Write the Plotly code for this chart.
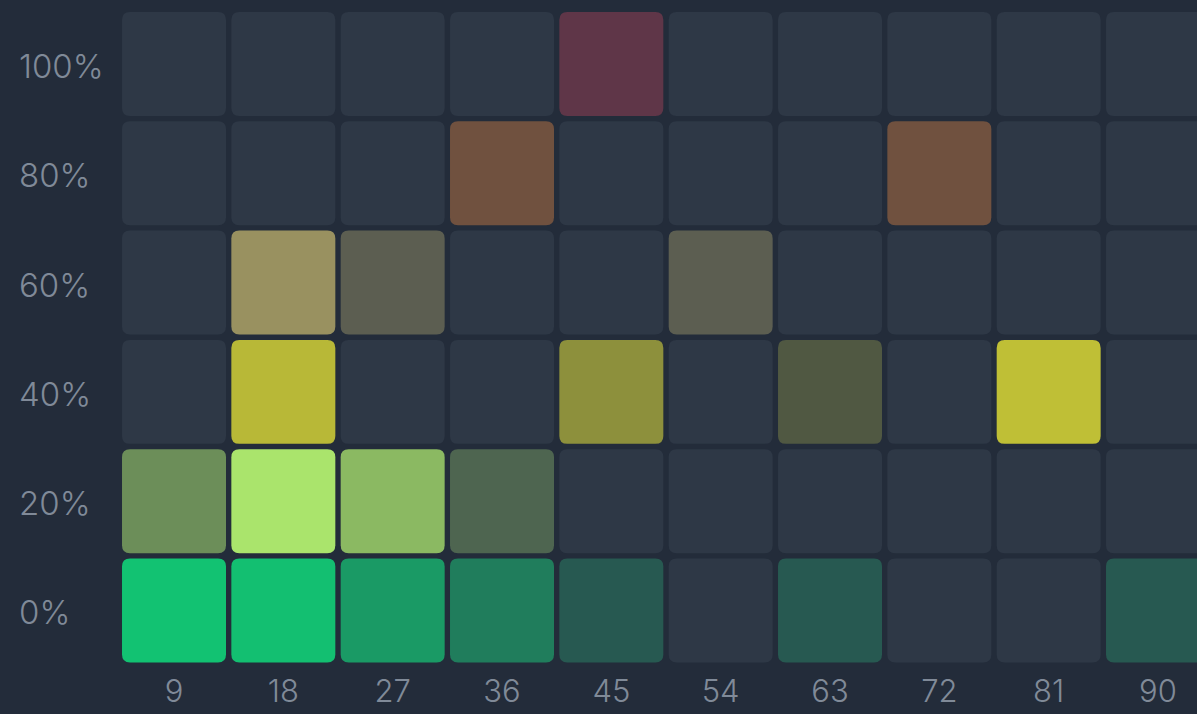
import plotly.graph_objects as go

# ---- data ----
x_values = [9, 18, 27, 36, 45, 54, 63, 72, 81, 90]
y_values = [0, 20, 40, 60, 80, 100]
y_labels = ["0%", "20%", "40%", "60%", "80%", "100%"]

# intensity (0..1) per row, one entry per x value
row_0 = [1.0, 0.98, 0.71, 0.5, 0.24, 0.0, 0.24, 0.0, 0.0, 0.24]
row_20 = [0.5, 1.0, 0.75, 0.26, 0.0, 0.0, 0.0, 0.0, 0.0, 0.0]
row_40 = [0.0, 0.93, 0.0, 0.0, 0.64, 0.0, 0.23, 0.0, 0.98, 0.0]
row_60 = [0.0, 0.82, 0.35, 0.0, 0.0, 0.35, 0.0, 0.0, 0.0, 0.0]
row_80 = [0.0, 0.0, 0.0, 0.45, 0.0, 0.0, 0.0, 0.45, 0.0, 0.0]
row_100 = [0.0, 0.0, 0.0, 0.0, 0.3, 0.0, 0.0, 0.0, 0.0, 0.0]
rows = [row_0, row_20, row_40, row_60, row_80, row_100]

row_colors = ["#12c272", "#aae46c", "#c2c236", "#b0a566", "#c07036", "#d0304c"]

# ---- style ----
BG = "#232c3a"
EMPTY = "#2e3846"
LABEL = "#808a98"
FONT = "Inter"


def hex_rgb(h):
    h = h.lstrip("#")
    return [int(h[i:i + 2], 16) for i in (0, 2, 4)]


def blend(base, a):
    b = hex_rgb(base)
    e = hex_rgb(EMPTY)
    c = [round(e[i] + a * (b[i] - e[i])) for i in range(3)]
    return "rgb(%d,%d,%d)" % tuple(c)


# geometry (data units)
HW = 4.28   # half width of a cell
HH = 9.51   # half height of a cell
RX = 0.66   # corner radius in x units
RY = 1.46   # corner radius in y units


def rrect(xc, yc):
    x0, x1 = xc - HW, xc + HW
    y0, y1 = yc - HH, yc + HH
    return (f"M {x0+RX},{y0} L {x1-RX},{y0} Q {x1},{y0} {x1},{y0+RY} "
            f"L {x1},{y1-RY} Q {x1},{y1} {x1-RX},{y1} L {x0+RX},{y1} "
            f"Q {x0},{y1} {x0},{y1-RY} L {x0},{y0+RY} Q {x0},{y0} {x0+RX},{y0} Z")


shapes = []
hx, hy, ht = [], [], []
for ri, yv in enumerate(y_values):
    for ci, xv in enumerate(x_values):
        a = rows[ri][ci]
        shapes.append(dict(type="path", xref="x", yref="y", path=rrect(xv, yv),
                           fillcolor=blend(row_colors[ri], a),
                           line=dict(width=0), layer="above"))
        hx.append(xv)
        hy.append(yv)
        ht.append(f"{xv}, {y_labels[ri]}: {a:.2f}")

fig = go.Figure()
fig.add_trace(go.Scatter(x=hx, y=hy, mode="markers", text=ht, hoverinfo="text",
                         marker=dict(size=60, opacity=0), showlegend=False))

annotations = []
for yv, lab in zip(y_values, y_labels):
    annotations.append(dict(x=-0.0905, xref="paper", y=yv, yref="y", text=lab,
                            xanchor="left", yanchor="middle", yshift=-2,
                            showarrow=False,
                            font=dict(family=FONT, size=33, color=LABEL, weight=300)))

fig.update_layout(
    width=1197, height=714,
    margin=dict(l=115, r=0, t=0, b=44, autoexpand=False),
    paper_bgcolor=BG, plot_bgcolor=BG,
    shapes=shapes,
    annotations=annotations,
    showlegend=False,
    xaxis=dict(range=[4.143, 93.21], tickvals=x_values,
               ticktext=[str(v) for v in x_values],
               showgrid=False, zeroline=False, showline=False, ticks="",
               ticklabelstandoff=0, automargin=False,
               tickfont=dict(family=FONT, size=31, color=LABEL, weight=300),
               fixedrange=True),
    yaxis=dict(range=[-10.89, 111.71], showticklabels=False, showgrid=False,
               zeroline=False, showline=False, ticks="", automargin=False,
               fixedrange=True),
)

fig.write_html("out.html", config={"displayModeBar": False},
               post_script="document.body.style.margin='0';")
